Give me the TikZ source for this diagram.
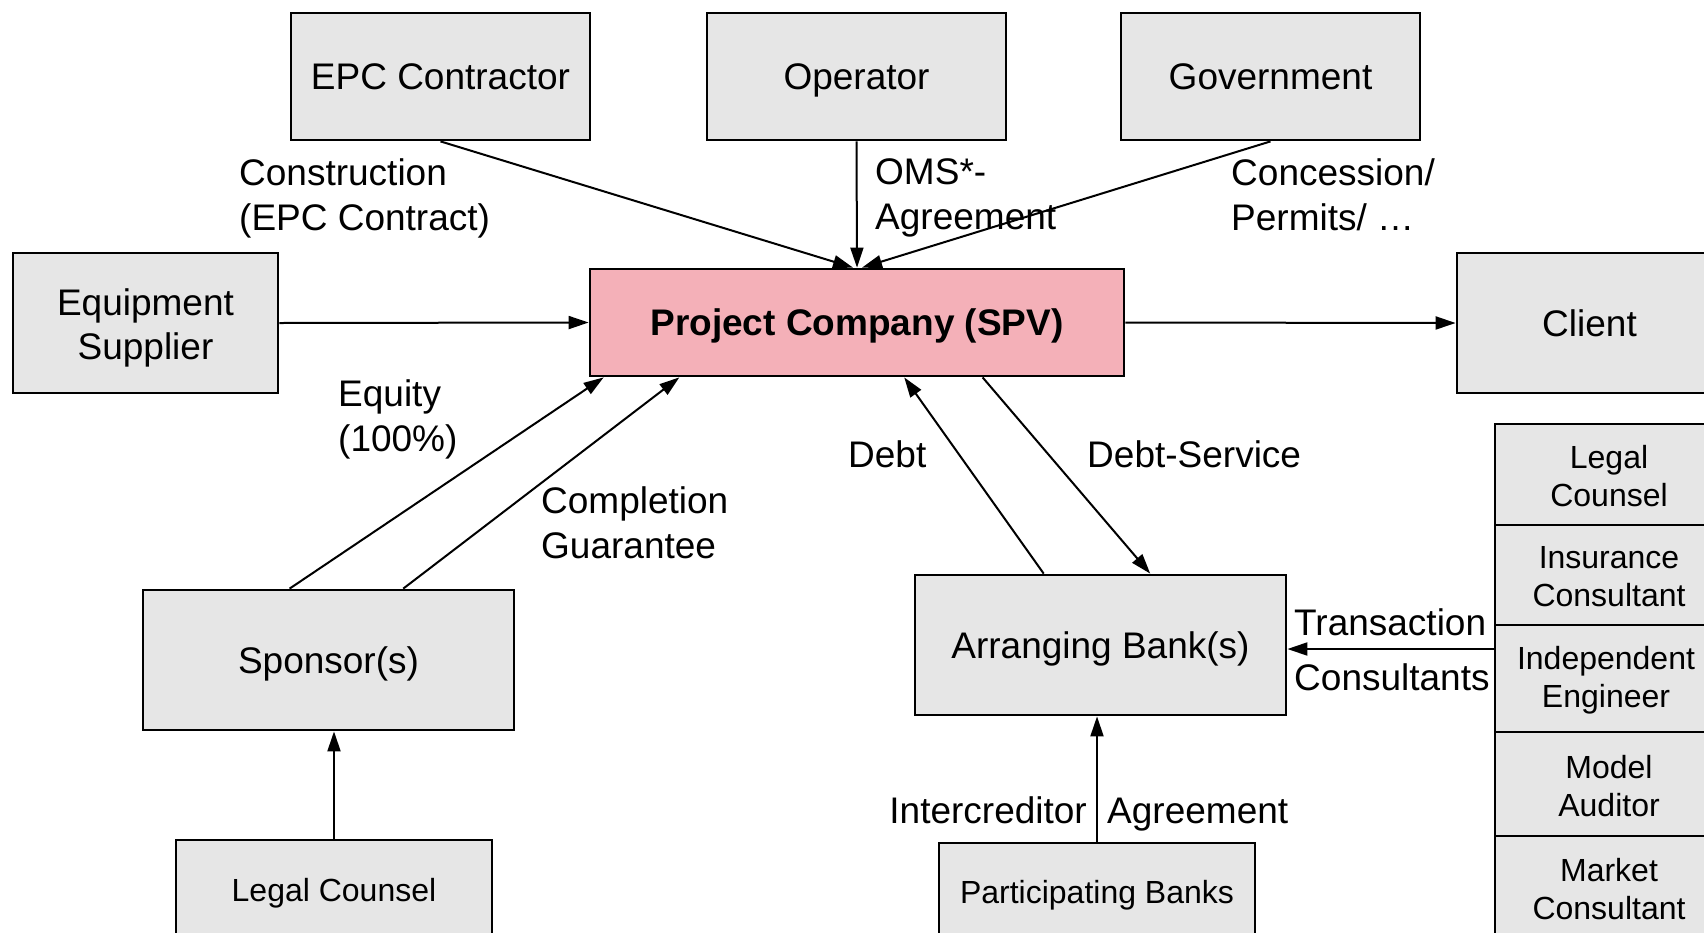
\documentclass[tikz,border=0pt]{standalone}
\usepackage{fontspec}
\setmainfont{Liberation Sans}
\usetikzlibrary{arrows.meta,calc}
\definecolor{boxgray}{RGB}{230,230,230}
\definecolor{spvpink}{RGB}{244,176,184}
\tikzset{
  box/.style={draw, line width=2.8pt, fill=boxgray, inner sep=0pt, align=center,
    font=\fontsize{37}{44}\selectfont},
  smallbox/.style={box, font=\fontsize{32}{38}\selectfont},
  oneline/.style={text depth=0pt},
  lbl/.style={inner sep=0pt, align=left, font=\fontsize{37}{45}\selectfont},
  conn/.style={line width=2pt, -{Triangle[length=20pt,width=13pt]}},
  stack/.style={smallbox, minimum width=228},
  stacktxt/.style={align=center, inner sep=0pt, font=\fontsize{32}{38}\selectfont, yshift=-1.5pt},
}
\begin{document}
\begin{tikzpicture}[x=1pt,y=-1pt]
\useasboundingbox (0,0) rectangle (1704,932);
\clip (0,0) rectangle (1704,932);
\fill[white] (0,0) rectangle (1704,932);
% top row
\node[box, oneline, minimum width=299, minimum height=127] (epc) at (440.5,76.5) {EPC Contractor};
\node[box, oneline, minimum width=299, minimum height=127] (oper) at (856.5,76.5) {Operator};
\node[box, oneline, minimum width=299, minimum height=127] (gov) at (1270.5,76.5) {Government};
% middle row
\node[box, minimum width=265, minimum height=140] (equip) at (145.5,323) {};
\node[align=center, inner sep=0pt, font=\fontsize{37}{44}\selectfont, yshift=-5pt] (equiptxt) at (equip.center) {Equipment\\Supplier};
\node[box, oneline, fill=spvpink, minimum width=534, minimum height=107] (spv) at (857,322.5) {\bfseries Project Company (SPV)};
\node[box, oneline, minimum width=265, minimum height=140] (client) at (1589.5,323) {Client};
% lower
\node[box, oneline, minimum width=371, minimum height=140] (sponsor) at (328.5,660) {Sponsor(s)};
\node[smallbox, oneline, minimum width=316, minimum height=100] (legal) at (334,890) {Legal Counsel};
\node[box, oneline, minimum width=371, minimum height=140] (arr) at (1100.5,645) {Arranging Bank(s)};
\node[smallbox, oneline, minimum width=316, minimum height=97] (part) at (1097,891.5) {Participating Banks};
% consultants stack
\node[stack, minimum height=101] (r1) at (1609,474.5) {};
\node[stack, minimum height=100] (r2) at (1609,575) {};
\node[stack, minimum height=107] (r3) at (1609,678.5) {};
\node[stack, minimum height=104] (r4) at (1609,784) {};
\node[stack, minimum height=104] (r5) at (1609,888) {};
\node[stacktxt] (t1) at (r1.center) {Legal\ \\Counsel};
\node[stacktxt] (t2) at (r2.center) {Insurance\ \\Consultant};
\node[stacktxt, xshift=-3pt] (t3) at (r3.center) {Independent\ \\Engineer\ };
\node[stacktxt, yshift=-0.5pt] (t4) at (r4.center) {Model\ \\Auditor};
\node[stacktxt] (t5) at (r5.center) {Market\ \\Consultant};
% connectors
\draw[conn] (epc.south) -- ($(spv.north)+(-4,0)$);
\draw[conn] (oper.south) -- (spv.north);
\draw[conn] (gov.south) -- ($(spv.north)+(5,0)$);
\draw[conn] (equip.east) -- (spv.west);
\draw[conn] (spv.east) -- (client.west);
\draw[conn] ($(sponsor.north west)!0.396!(sponsor.north east)$) -- ($(spv.south west)!0.028!(spv.south east)$);
\draw[conn] ($(sponsor.north west)!0.70!(sponsor.north east)$) -- ($(spv.south west)!0.169!(spv.south east)$);
\draw[conn] ($(arr.north west)!0.348!(arr.north east)$) -- ($(spv.south west)!0.588!(spv.south east)$);
\draw[conn] ($(spv.south west)!0.734!(spv.south east)$) -- ($(arr.north west)!0.633!(arr.north east)$);
\draw[conn] (part.north) -- (part.north |- arr.south);
\draw[conn] (legal.north) -- (legal.north |- sponsor.south);
\coordinate (tc) at ($(arr.east)+(0,4)$);
\draw[conn] (r3.west |- tc) -- (tc);
% labels
\node[lbl, anchor=north west] (lconst) at (239,158.5) {Construction\\(EPC Contract)};
\node[lbl, anchor=north west] (loms) at (875,158.5) {OMS*-\\Agreement};
\node[lbl, anchor=north west] (lconc) at (1231,158.5) {Concession/\\Permits/ …};
\node[lbl, anchor=north west] (lequity) at (338,379.5) {Equity\\(100\%)};
\node[lbl, anchor=north west] (lcompl) at (541,486.5) {Completion\\Guarantee};
\node[lbl, anchor=base west] (ldebt) at (848,467) {Debt};
\node[lbl, anchor=base west] (ldserv) at (1087,467) {Debt-Service};
\node[lbl, anchor=north west, font=\fontsize{37}{55}\selectfont] (ltrans) at (1294,608.5) {Transaction\\Consultants};
\node[lbl, anchor=base east] (linter) at (1087,823) {Intercreditor};
\node[lbl, anchor=base west] (lagree) at (1107,823) {Agreement};
\end{tikzpicture}
\end{document}
